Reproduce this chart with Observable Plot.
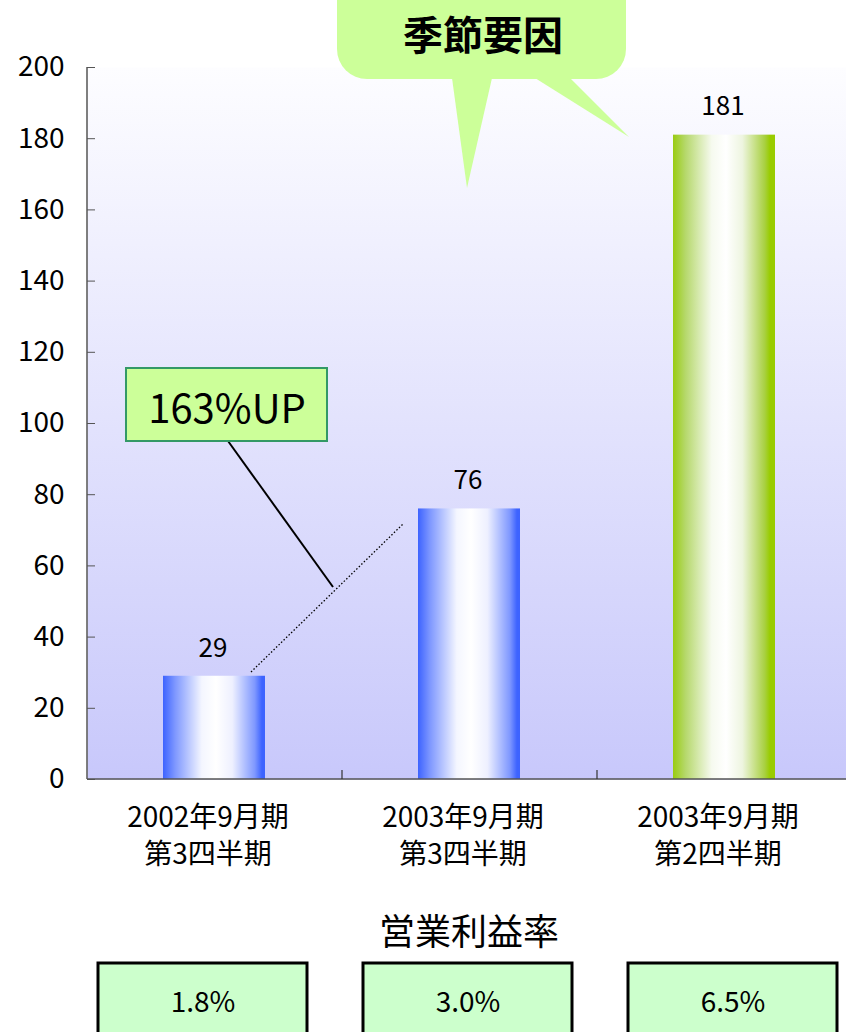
<!DOCTYPE html>
<html><head><meta charset="utf-8">
<script src="https://cdn.jsdelivr.net/npm/d3@7"></script>
<script src="https://cdn.jsdelivr.net/npm/@observablehq/plot@0.6"></script>
<style>
html,body{margin:0;padding:0;background:#fff;overflow:hidden;width:846px;height:1032px;}
#wrap{position:relative;width:846px;height:1032px;overflow:hidden;font-family:"Noto Sans CJK JP","Noto Sans",sans-serif;}
#chart{position:absolute;left:0;top:0;}
#title{position:absolute;left:0;width:938px;top:904px;text-align:center;font-size:36px;line-height:50px;color:#000;}
#boxes{position:absolute;left:0;top:961px;}
svg{overflow:visible;max-width:none !important;}
</style>
</head><body>
<div id="wrap">
  <div id="chart"></div>
  <div id="title">営業利益率</div>
  <div id="boxes"></div>
</div>
<script>
const categories = ["2002年9月期\n第3四半期", "2003年9月期\n第3四半期", "2003年9月期\n第2四半期"];
const profits = [29, 76, 181];
const barKinds = ["blue", "blue", "green"];
const marginRates = ["1.8%", "3.0%", "6.5%"];
const yTicks = [0, 20, 40, 60, 80, 100, 120, 140, 160, 180, 200];

const rows = categories.map((c, i) => ({cat: c, value: profits[i], kind: barKinds[i], rate: marginRates[i]}));
const font = '"Noto Sans CJK JP","Noto Sans",sans-serif';

const plot = Plot.plot({
  width: 852, height: 880,
  marginLeft: 87, marginRight: 0, marginTop: 67, marginBottom: 101,
  style: {fontFamily: font, color: "#000", background: "transparent", maxWidth: "none"},
  x: {domain: categories, padding: 0},
  y: {domain: [0, 200]},
  color: {type: "identity"},
  marks: [
    Plot.frame({fill: "url(#bgGrad)", stroke: null}),
    Plot.barY(rows, {x: "cat", y: "value", fill: d => d.kind === "green" ? "url(#gGreen)" : "url(#gBlue)", insetLeft: 76, insetRight: 77}),
    Plot.text(rows, {x: "cat", y: "value", text: d => String(d.value), dy: -28, dx: -2, fontSize: 26, fill: "#000"}),
    Plot.axisY({ticks: yTicks, tickSize: -8, tickPadding: 31, fontSize: 28, tickFormat: d => String(d), stroke: "#555", label: null}),
    Plot.axisX({tickSize: 0, tickPadding: 21, fontSize: 28, lineHeight: 1.33, dx: -7, tickFormat: d => d, label: null})
  ]
});
document.getElementById("chart").appendChild(plot);

const svg = d3.select(plot);
const defs = svg.insert("defs", ":first-child");
const bg = defs.append("linearGradient").attr("id", "bgGrad").attr("x1", 0).attr("y1", 0).attr("x2", 0).attr("y2", 1);
bg.append("stop").attr("offset", "0%").attr("stop-color", "#fdfdff");
bg.append("stop").attr("offset", "100%").attr("stop-color", "#c8c8fb");
function barGrad(id, edge, mid) {
  const g = defs.append("linearGradient").attr("id", id).attr("x1", 0).attr("y1", 0).attr("x2", 1).attr("y2", 0);
  [[0, edge], [0.12, mid], [0.38, "#f4f6ff"], [0.52, "#ffffff"], [0.68, "#eef0ff"], [0.9, mid], [0.97, edge], [1, edge]]
    .forEach(([o, c]) => g.append("stop").attr("offset", o).attr("stop-color", c));
}
barGrad("gBlue", "#3d63ff", "#7f98ff");
(function(){
  const g = defs.append("linearGradient").attr("id", "gGreen").attr("x1", 0).attr("y1", 0).attr("x2", 1).attr("y2", 0);
  [[0, "#99cc11"], [0.12, "#b5d86a"], [0.38, "#f6faef"], [0.52, "#ffffff"], [0.68, "#eef5e0"], [0.9, "#a8d040"], [0.95, "#99cc00"], [1, "#99cc00"]]
    .forEach(([o, c]) => g.append("stop").attr("offset", o).attr("stop-color", c));
})();

const xs = plot.scale("x"), ys = plot.scale("y");
const y0 = ys.apply(0), yTop = ys.apply(200);
const ann = svg.append("g");
// axis lines
ann.append("line").attr("x1", 87).attr("x2", 87).attr("y1", yTop).attr("y2", y0).attr("stroke", "#555").attr("stroke-width", 1.5);
ann.append("line").attr("x1", 87).attr("x2", 852).attr("y1", y0).attr("y2", y0).attr("stroke", "#555").attr("stroke-width", 1.5);
categories.slice(1).forEach(c => {
  const x = xs.apply(c);
  ann.append("line").attr("x1", x).attr("x2", x).attr("y1", y0).attr("y2", y0 - 9).attr("stroke", "#333").attr("stroke-width", 1.2);
});
// speech bubble
const bub = ann.append("g").attr("fill", "#ccff99");
bub.append("rect").attr("x", 337).attr("y", -40).attr("width", 289).attr("height", 119).attr("rx", 30);
bub.append("path").attr("d", "M452,78 L467,188 L492,78 Z");
bub.append("path").attr("d", "M535,78 L629,137 L570,78 Z");
ann.append("text").attr("x", 483).attr("y", 33).attr("text-anchor", "middle").attr("dominant-baseline", "central")
  .attr("font-size", 40).attr("font-weight", "bold").attr("font-family", font).text("季節要因");
// 163%UP annotation
ann.append("line").attr("x1", 251).attr("y1", 672).attr("x2", 403).attr("y2", 524).attr("stroke", "#000").attr("stroke-width", 1.3).attr("stroke-dasharray", "1.5,2");
ann.append("line").attr("x1", 228).attr("y1", 441).attr("x2", 333).attr("y2", 587).attr("stroke", "#000").attr("stroke-width", 2);
ann.append("rect").attr("x", 126).attr("y", 368).attr("width", 201).attr("height", 73).attr("fill", "#ccff99").attr("stroke", "#339966").attr("stroke-width", 2);
ann.append("text").attr("x", 227).attr("y", 406).attr("text-anchor", "middle").attr("dominant-baseline", "central")
  .attr("font-size", 40).attr("font-family", font).text("163%UP");

const boxes = Plot.plot({
  width: 865, height: 82, marginLeft: 70, marginRight: 0, marginTop: 2, marginBottom: 0,
  style: {fontFamily: font, color: "#000", background: "transparent", maxWidth: "none"},
  x: {domain: categories, padding: 0, axis: null},
  marks: [
    Plot.cell(rows, {x: "cat", fill: "#ccffcc", stroke: "#000", strokeWidth: 3, insetLeft: 28, insetRight: 28}),
    Plot.text(rows, {x: "cat", text: "rate", fontSize: 28, frameAnchor: "middle", fill: "#000"})
  ]
});
document.getElementById("boxes").appendChild(boxes);
</script>
</body></html>
